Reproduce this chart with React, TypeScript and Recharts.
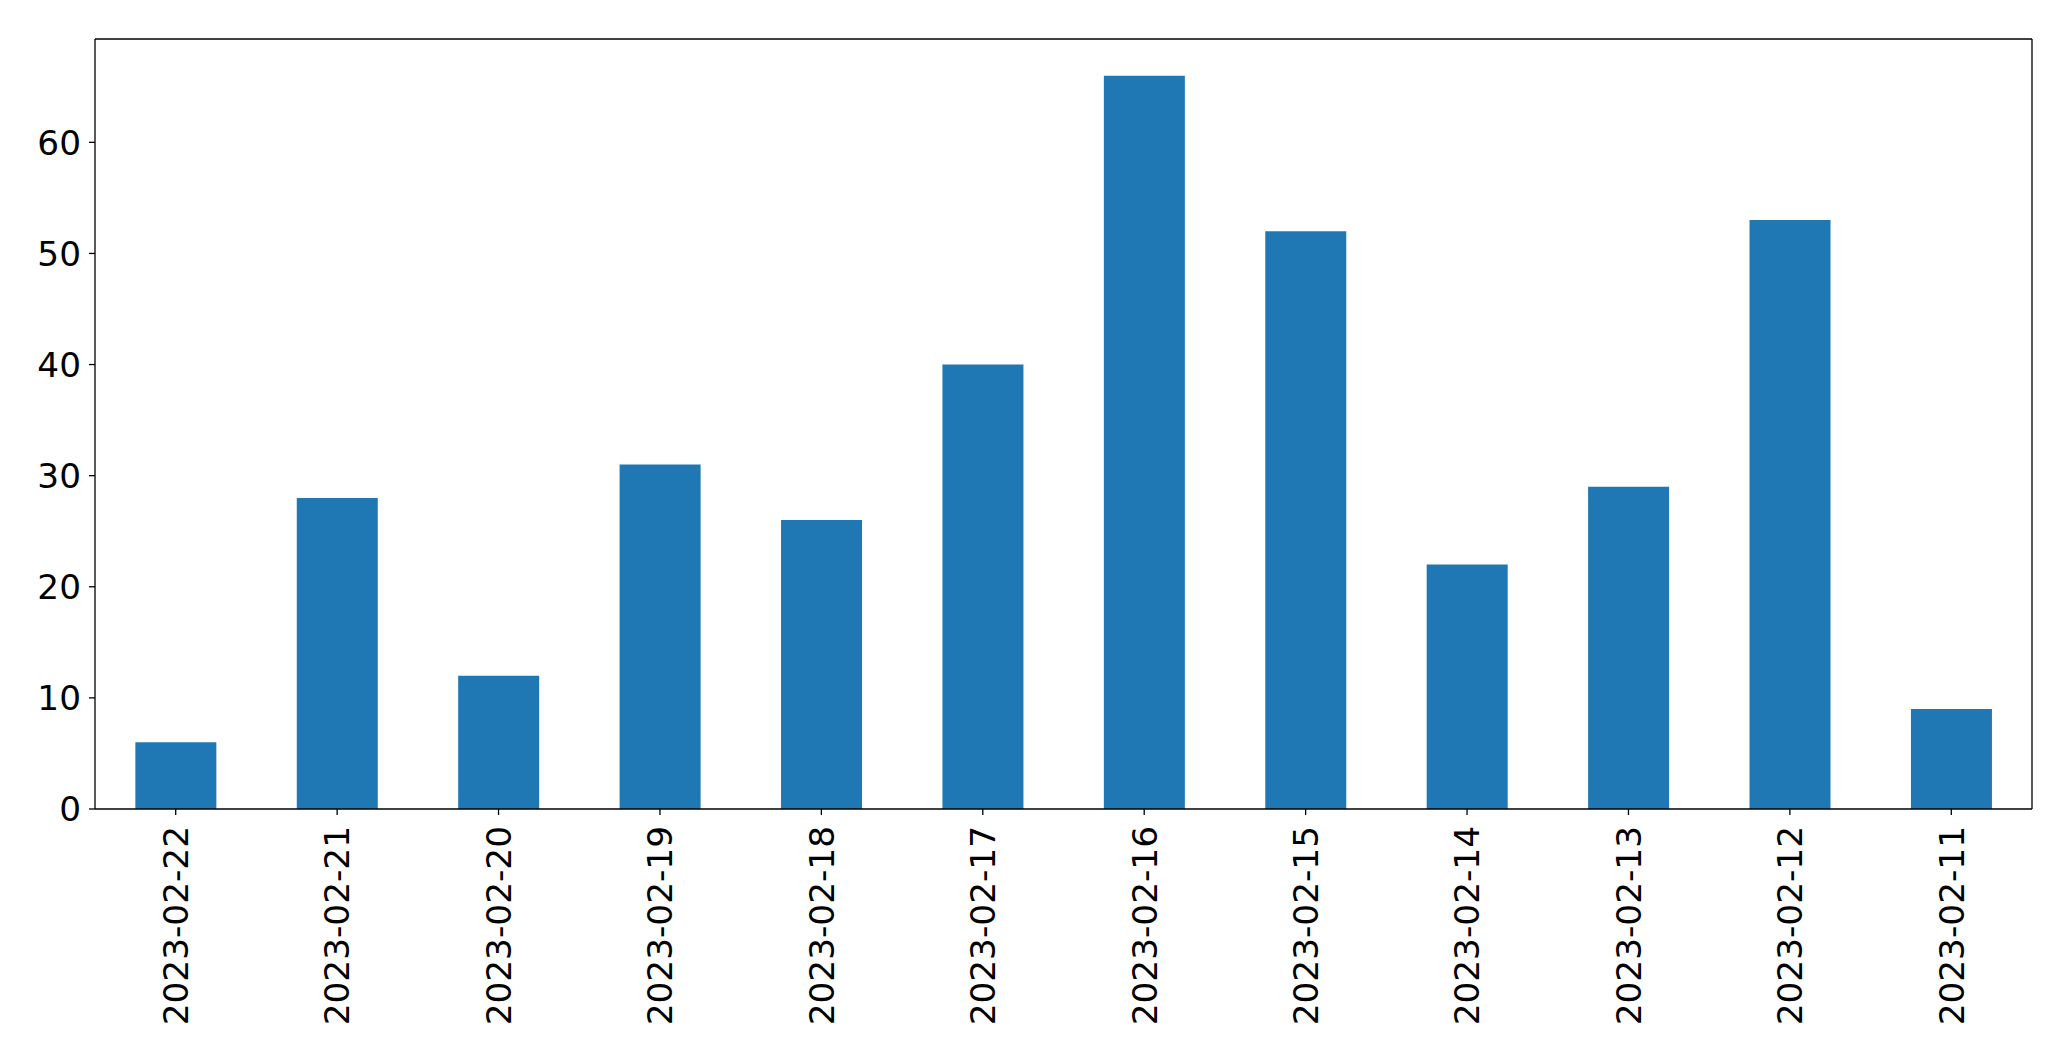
import { BarChart, Bar, XAxis, YAxis } from "recharts";

const dates = [
    "2023-02-22",
    "2023-02-21",
    "2023-02-20",
    "2023-02-19",
    "2023-02-18",
    "2023-02-17",
    "2023-02-16",
    "2023-02-15",
    "2023-02-14",
    "2023-02-13",
    "2023-02-12",
    "2023-02-11",
];
const counts = [6, 28, 12, 31, 26, 40, 66, 52, 22, 29, 53, 9];
const yTicks = [0, 10, 20, 30, 40, 50, 60];

const data = dates.map((date, i) => ({ date, count: counts[i] }));

const FONT = "'DejaVu Sans', sans-serif";
const FONT_SIZE = 34.3;

function DateTick(props: any) {
    const { x, y, payload } = props;
    return (
        <text
            x={x}
            y={y}
            dy="0.36em"
            transform={`rotate(-90, ${x}, ${y})`}
            textAnchor="end"
            fill="#000"
            fontFamily={FONT}
            fontSize={FONT_SIZE}
        >
            {payload.value}
        </text>
    );
}

export default function App() {
    return (
        <div style={{ position: "absolute", left: 0, top: 0, background: "#fff" }}>
            <BarChart
                width={2071}
                height={1061}
                data={data}
                margin={{ top: 38, right: 38, left: 0, bottom: 0 }}
                barCategoryGap="25%"
            >
                <XAxis
                    dataKey="date"
                    height={252}
                    interval={0}
                    tickSize={6}
                    tickMargin={11}
                    axisLine={{ stroke: "#000", strokeWidth: 1.3 }}
                    tickLine={{ stroke: "#000", strokeWidth: 1.3 }}
                    tick={<DateTick />}
                />
                <XAxis
                    xAxisId="top"
                    dataKey="date"
                    orientation="top"
                    height={1}
                    tick={false}
                    tickLine={false}
                    axisLine={{ stroke: "#000", strokeWidth: 1.3 }}
                />
                <YAxis
                    width={95}
                    domain={[0, 69.3]}
                    ticks={yTicks}
                    interval={0}
                    allowDataOverflow
                    tickSize={6}
                    tickMargin={8}
                    axisLine={{ stroke: "#000", strokeWidth: 1.3 }}
                    tickLine={{ stroke: "#000", strokeWidth: 1.3 }}
                    tick={{ fill: "#000", fontSize: FONT_SIZE, fontFamily: FONT }}
                />
                <YAxis
                    yAxisId="right"
                    orientation="right"
                    width={1}
                    domain={[0, 69.3]}
                    tick={false}
                    tickLine={false}
                    axisLine={{ stroke: "#000", strokeWidth: 1.3 }}
                />
                <Bar dataKey="count" fill="#1f77b4" isAnimationActive={false} />
            </BarChart>
        </div>
    );
}
